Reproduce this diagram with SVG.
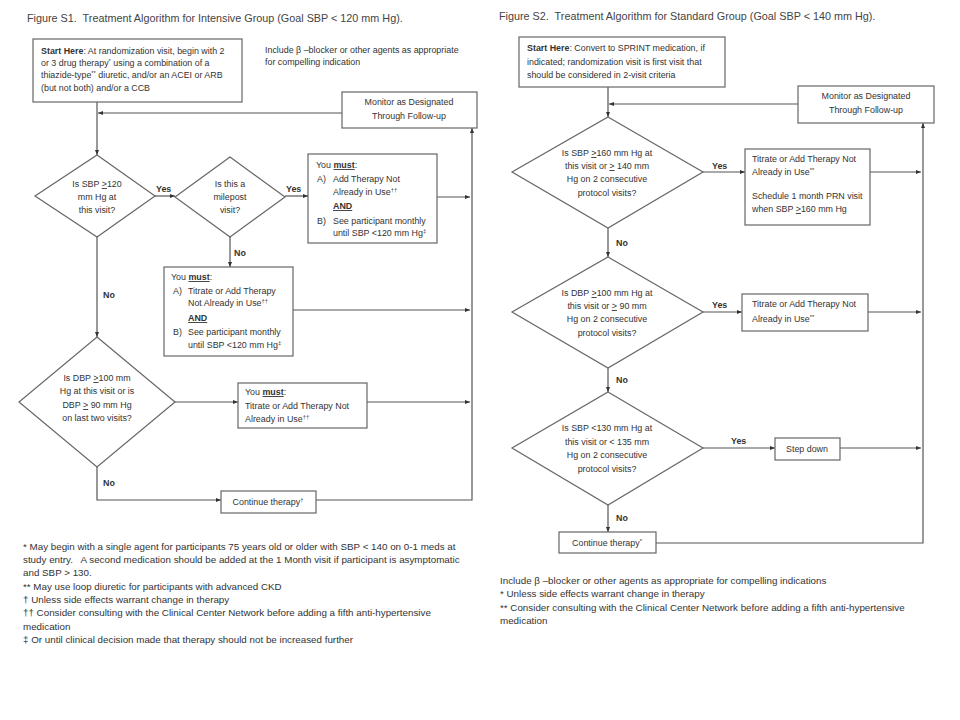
<svg xmlns="http://www.w3.org/2000/svg" width="960" height="720" viewBox="0 0 960 720">
<style>
.t{font-family:"Liberation Sans",Arial,sans-serif;font-size:8.9px;fill:#333}
.ti{font-family:"Liberation Sans",Arial,sans-serif;font-size:10.8px;fill:#444}
.fn{font-family:"Liberation Sans",Arial,sans-serif;font-size:9.8px;fill:#333}
.m{text-anchor:middle}
.b{font-weight:bold}
.u{text-decoration:underline}
.box{fill:#fff;stroke:#666;stroke-width:1.2}
.ln{fill:none;stroke:#555;stroke-width:1.2}
.sup{font-size:5.8px}
</style>
<defs>
<marker id="a" viewBox="0 0 10 10" refX="10" refY="5" markerWidth="5" markerHeight="5" markerUnits="userSpaceOnUse" orient="auto"><path d="M0,1 L10,5 L0,9 Z" fill="#333"/></marker>
</defs>
<rect width="960" height="720" fill="#fff"/>

<text class="ti" x="27" y="22" xml:space="preserve">Figure S1.  Treatment Algorithm for Intensive Group (Goal SBP &lt; 120 mm Hg).</text>
<text class="ti" x="499" y="20" xml:space="preserve">Figure S2.  Treatment Algorithm for Standard Group (Goal SBP &lt; 140 mm Hg).</text>

<g id="connectors">
<path class="ln" marker-end="url(#a)" d="M97,102 V155"/>
<path class="ln" marker-end="url(#a)" d="M342,113 H98"/>
<path class="ln" marker-end="url(#a)" d="M155,196 H175"/>
<path class="ln" marker-end="url(#a)" d="M285,196 H308"/>
<path class="ln" marker-end="url(#a)" d="M437,197 H470"/>
<path class="ln" marker-end="url(#a)" d="M230,237 V267"/>
<path class="ln" marker-end="url(#a)" d="M293,310 H470"/>
<path class="ln" marker-end="url(#a)" d="M97,237 V337"/>
<path class="ln" marker-end="url(#a)" d="M175,402 H238"/>
<path class="ln" marker-end="url(#a)" d="M367,402 H470"/>
<path class="ln" marker-end="url(#a)" d="M97,467 V500 H221"/>
<path class="ln" marker-end="url(#a)" d="M316,500 H472 V128"/>

<path class="ln" marker-end="url(#a)" d="M608,87 V117"/>
<path class="ln" marker-end="url(#a)" d="M798,104 H609"/>
<path class="ln" marker-end="url(#a)" d="M703,172 H745"/>
<path class="ln" marker-end="url(#a)" d="M870,172 H921"/>
<path class="ln" marker-end="url(#a)" d="M608,228 V257"/>
<path class="ln" marker-end="url(#a)" d="M703,312 H742"/>
<path class="ln" marker-end="url(#a)" d="M868,312 H921"/>
<path class="ln" marker-end="url(#a)" d="M608,368 V392"/>
<path class="ln" marker-end="url(#a)" d="M703,448 H775"/>
<path class="ln" marker-end="url(#a)" d="M840,448 H921"/>
<path class="ln" marker-end="url(#a)" d="M608,505 V532"/>
<path class="ln" marker-end="url(#a)" d="M656,543 H923 V123"/>

<text class="t b" x="156" y="192">Yes</text>
<text class="t b" x="286" y="192">Yes</text>
<text class="t b" x="234" y="256">No</text>
<text class="t b" x="103" y="298">No</text>
<text class="t b" x="103" y="486">No</text>
<text class="t b" x="712" y="169">Yes</text>
<text class="t b" x="616" y="246">No</text>
<text class="t b" x="712" y="308">Yes</text>
<text class="t b" x="616" y="383">No</text>
<text class="t b" x="731" y="444">Yes</text>
<text class="t b" x="616" y="521">No</text>
</g>

<g id="s1-start">
<rect class="box" x="33" y="39" width="209" height="63"/>
<text class="t" x="41" y="54"><tspan class="b">Start Here</tspan>: At randomization visit, begin with 2</text>
<text class="t" x="41" y="66">or 3 drug therapy<tspan class="sup" dy="-3">*</tspan><tspan dy="3"> using a combination of a</tspan></text>
<text class="t" x="41" y="78">thiazide-type<tspan class="sup" dy="-3">**</tspan><tspan dy="3"> diuretic, and/or an ACEI or ARB</tspan></text>
<text class="t" x="41" y="91">(but not both) and/or a CCB</text>
</g>

<g id="s1-note">
<text class="t" x="265" y="53">Include β –blocker or other agents as appropriate</text>
<text class="t" x="265" y="65">for compelling indication</text>
</g>

<g id="s1-monitor">
<rect class="box" x="342" y="92" width="135" height="36"/>
<text class="t m" x="409" y="105">Monitor as Designated</text>
<text class="t m" x="409" y="119">Through Follow-up</text>
</g>

<g id="s1-d1">
<polygon class="box" points="97,155 155,196 97,237 35,196"/>
<text class="t m" x="97" y="187">Is SBP <tspan class="u">&gt;</tspan>120</text>
<text class="t m" x="97" y="200">mm Hg at</text>
<text class="t m" x="97" y="213">this visit?</text>
</g>

<g id="s1-d2">
<polygon class="box" points="230,157 285,197 230,237 175,197"/>
<text class="t m" x="230" y="187">Is this a</text>
<text class="t m" x="230" y="200">milepost</text>
<text class="t m" x="230" y="213">visit?</text>
</g>

<g id="s1-box3">
<rect class="box" x="308" y="154" width="129" height="89"/>
<text class="t" x="316" y="168">You <tspan class="b u">must</tspan>:</text>
<text class="t" x="317" y="182">A)</text>
<text class="t" x="333" y="182">Add Therapy Not</text>
<text class="t" x="333" y="195">Already in Use<tspan class="sup" dy="-3">††</tspan></text>
<text class="t b u" x="333" y="209">AND</text>
<text class="t" x="317" y="224">B)</text>
<text class="t" x="333" y="224">See participant monthly</text>
<text class="t" x="333" y="236">until SBP &lt;120 mm Hg<tspan class="sup" dy="-3">‡</tspan></text>
</g>

<g id="s1-box4">
<rect class="box" x="164" y="267" width="129" height="89"/>
<text class="t" x="171" y="280">You <tspan class="b u">must</tspan>:</text>
<text class="t" x="173" y="294">A)</text>
<text class="t" x="188" y="294">Titrate or Add Therapy</text>
<text class="t" x="188" y="306">Not Already in Use<tspan class="sup" dy="-3">††</tspan></text>
<text class="t b u" x="188" y="321">AND</text>
<text class="t" x="173" y="335">B)</text>
<text class="t" x="188" y="335">See participant monthly</text>
<text class="t" x="188" y="348">until SBP &lt;120 mm Hg<tspan class="sup" dy="-3">‡</tspan></text>
</g>

<g id="s1-d3">
<polygon class="box" points="97,337 175,402 97,467 19,402"/>
<text class="t m" x="97" y="381">Is DBP <tspan class="u">&gt;</tspan>100 mm</text>
<text class="t m" x="97" y="394">Hg at this visit or is</text>
<text class="t m" x="97" y="408">DBP <tspan class="u">&gt;</tspan> 90 mm Hg</text>
<text class="t m" x="97" y="421">on last two visits?</text>
</g>

<g id="s1-box5">
<rect class="box" x="238" y="383" width="129" height="45"/>
<text class="t" x="245" y="395">You <tspan class="b u">must</tspan>:</text>
<text class="t" x="245" y="409">Titrate or Add Therapy Not</text>
<text class="t" x="245" y="422">Already in Use<tspan class="sup" dy="-3">††</tspan></text>
</g>

<g id="s1-continue">
<rect class="box" x="221" y="491" width="95" height="22"/>
<text class="t m" x="268" y="505">Continue therapy<tspan class="sup" dy="-3">†</tspan></text>
</g>

<g id="s1-footnotes">
<text class="fn" x="23" y="550">* May begin with a single agent for participants 75 years old or older with SBP &lt; 140 on 0-1 meds at</text>
<text class="fn" x="23" y="563" xml:space="preserve">study entry.   A second medication should be added at the 1 Month visit if participant is asymptomatic</text>
<text class="fn" x="23" y="576">and SBP &gt; 130.</text>
<text class="fn" x="23" y="590">** May use loop diuretic for participants with advanced CKD</text>
<text class="fn" x="23" y="603">† Unless side effects warrant change in therapy</text>
<text class="fn" x="23" y="616">†† Consider consulting with the Clinical Center Network before adding a fifth anti-hypertensive</text>
<text class="fn" x="23" y="630">medication</text>
<text class="fn" x="23" y="643">‡ Or until clinical decision made that therapy should not be increased further</text>
</g>

<g id="s2-start">
<rect class="box" x="519" y="37" width="206" height="50"/>
<text class="t" x="527" y="51"><tspan class="b">Start Here</tspan>: Convert to SPRINT medication, if</text>
<text class="t" x="527" y="65">indicated; randomization visit is first visit that</text>
<text class="t" x="527" y="78">should be considered in 2-visit criteria</text>
</g>

<g id="s2-monitor">
<rect class="box" x="798" y="86" width="136" height="37"/>
<text class="t m" x="866" y="99">Monitor as Designated</text>
<text class="t m" x="866" y="113">Through Follow-up</text>
</g>

<g id="s2-d1">
<polygon class="box" points="608,117 703,172 608,228 512,172"/>
<text class="t m" x="607" y="156">Is SBP <tspan class="u">&gt;</tspan>160 mm Hg at</text>
<text class="t m" x="607" y="169">this visit or <tspan class="u">&gt;</tspan> 140 mm</text>
<text class="t m" x="607" y="182">Hg on 2 consecutive</text>
<text class="t m" x="607" y="196">protocol visits?</text>
</g>

<g id="s2-box1">
<rect class="box" x="745" y="149" width="125" height="76"/>
<text class="t" x="752" y="162">Titrate or Add Therapy Not</text>
<text class="t" x="752" y="175">Already in Use<tspan class="sup" dy="-3">**</tspan></text>
<text class="t" x="752" y="199">Schedule 1 month PRN visit</text>
<text class="t" x="752" y="212">when SBP <tspan class="u">&gt;</tspan>160 mm Hg</text>
</g>

<g id="s2-d2">
<polygon class="box" points="608,257 703,312 608,368 512,312"/>
<text class="t m" x="607" y="296">Is DBP <tspan class="u">&gt;</tspan>100 mm Hg at</text>
<text class="t m" x="607" y="309">this visit or <tspan class="u">&gt;</tspan> 90 mm</text>
<text class="t m" x="607" y="322">Hg on 2 consecutive</text>
<text class="t m" x="607" y="336">protocol visits?</text>
</g>

<g id="s2-box2">
<rect class="box" x="742" y="294" width="126" height="37"/>
<text class="t" x="752" y="307">Titrate or Add Therapy Not</text>
<text class="t" x="752" y="322">Already in Use<tspan class="sup" dy="-3">**</tspan></text>
</g>

<g id="s2-d3">
<polygon class="box" points="608,392 703,448 608,505 512,448"/>
<text class="t m" x="607" y="431">Is SBP &lt;130 mm Hg at</text>
<text class="t m" x="607" y="445">this visit or &lt; 135 mm</text>
<text class="t m" x="607" y="458">Hg on 2 consecutive</text>
<text class="t m" x="607" y="472">protocol visits?</text>
</g>

<g id="s2-stepdown">
<rect class="box" x="775" y="438" width="65" height="22"/>
<text class="t m" x="807" y="452">Step down</text>
</g>

<g id="s2-continue">
<rect class="box" x="559" y="532" width="97" height="21"/>
<text class="t m" x="607" y="546">Continue therapy<tspan class="sup" dy="-3">*</tspan></text>
</g>

<g id="s2-footnotes">
<text class="fn" x="500" y="584">Include β –blocker or other agents as appropriate for compelling indications</text>
<text class="fn" x="500" y="597">* Unless side effects warrant change in therapy</text>
<text class="fn" x="500" y="611">** Consider consulting with the Clinical Center Network before adding a fifth anti-hypertensive</text>
<text class="fn" x="500" y="624">medication</text>
</g>
</svg>
